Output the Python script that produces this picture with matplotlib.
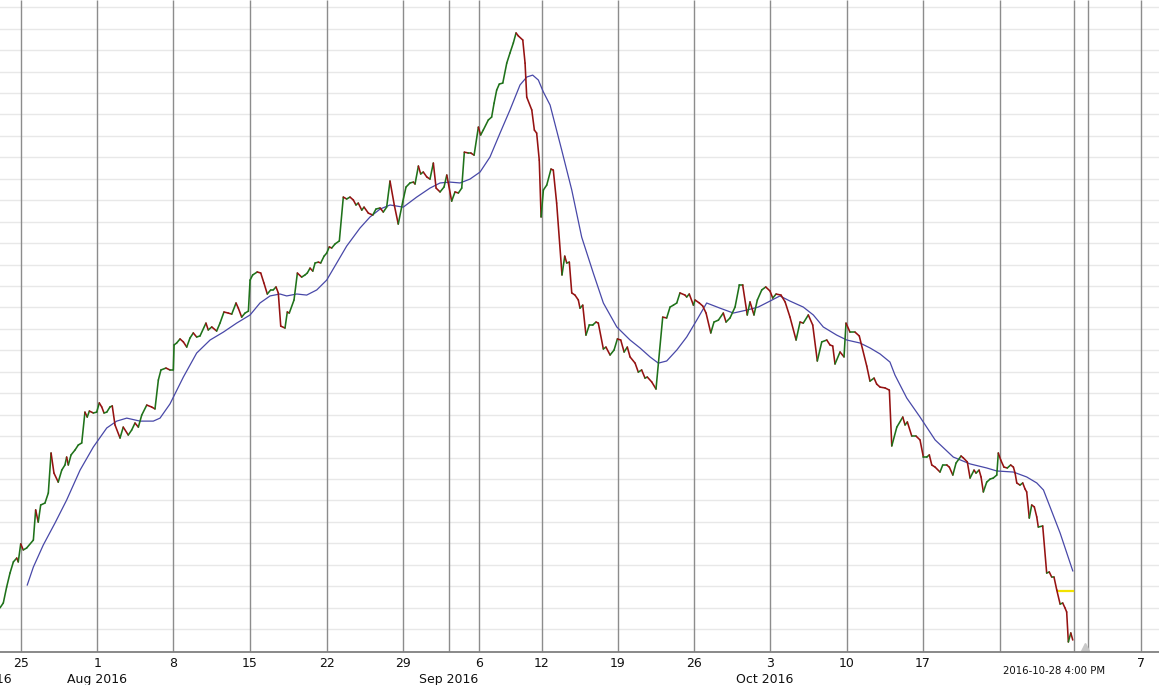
import numpy as np
import matplotlib
matplotlib.use("Agg")
import matplotlib.pyplot as plt
from matplotlib.collections import LineCollection
from matplotlib import transforms

# x = trading days since Mon Jul 25 2016, y = price in grid units
price_day = [
    -1.38, -1.16, -0.94, -0.72, -0.50, -0.28, -0.18, -0.02, 0.15, 0.37,
    0.81, 0.96, 1.13, 1.29, 1.57, 1.79, 1.97, 2.16, 2.44, 2.67,
    2.88, 2.99, 3.10, 3.28, 3.54, 3.75, 3.98, 4.19, 4.34, 4.48,
    4.74, 4.96, 5.13, 5.29, 5.44, 5.62, 5.83, 5.98, 6.16, 6.49,
    6.70, 7.03, 7.25, 7.47, 7.69, 7.91, 8.24, 8.56, 8.78, 9.00,
    9.17, 9.50, 9.76, 9.98, 10.03, 10.20, 10.42, 10.64, 10.86, 11.07,
    11.29, 11.51, 11.73, 12.12, 12.27, 12.50, 12.82, 13.04, 13.30, 13.58,
    13.81, 14.09, 14.24, 14.46, 14.68, 14.90, 15.01, 15.18, 15.48, 15.71,
    15.92, 16.14, 16.36, 16.53, 16.71, 16.86, 17.02, 17.30, 17.45, 17.58,
    17.89, 18.11, 18.39, 18.61, 18.76, 18.94, 19.12, 19.27, 19.48, 19.64,
    19.86, 20.03, 20.20, 20.36, 20.58, 20.86, 21.12, 21.34, 21.56, 21.78,
    21.95, 22.10, 22.33, 22.48, 22.76, 23.05, 23.26, 23.53, 23.74, 23.96,
    24.18, 24.46, 24.72, 25.01, 25.23, 25.49, 25.71, 25.82, 26.04, 26.19,
    26.36, 26.59, 26.80, 27.02, 27.20, 27.46, 27.72, 27.90, 28.00, 28.22,
    28.44, 28.66, 28.88, 29.05, 29.31, 29.47, 29.69, 29.97, 30.12, 30.29,
    30.62, 30.84, 31.00, 31.17, 31.34, 31.57, 31.83, 32.04, 32.26, 32.44,
    32.59, 32.88, 33.03, 33.14, 33.47, 33.64, 33.79, 33.96, 34.08, 34.23,
    34.45, 34.73, 34.88, 35.10, 35.45, 35.63, 35.76, 35.93, 36.09, 36.30,
    36.52, 36.63, 36.81, 37.02, 37.24, 37.46, 37.68, 37.83, 38.16, 38.33,
    38.60, 38.86, 39.08, 39.30, 39.52, 39.73, 39.91, 40.24, 40.45, 40.67,
    40.89, 41.04, 41.33, 41.61, 42.05, 42.31, 42.53, 42.75, 42.97, 43.18,
    43.51, 43.62, 43.79, 44.06, 44.17, 44.45, 44.67, 44.89, 45.20, 45.41,
    45.70, 46.02, 46.20, 46.46, 46.79, 47.07, 47.29, 47.59, 47.77, 48.03,
    48.25, 48.54, 48.80, 49.08, 49.26, 49.48, 49.80, 50.07, 50.39, 50.79,
    51.05, 51.26, 51.59, 51.88, 52.18, 52.47, 52.80, 53.01, 53.19, 53.34,
    53.67, 53.93, 54.06, 54.32, 54.65, 54.93, 55.42, 55.63, 55.90, 56.07,
    56.29, 56.62, 56.90, 57.06, 57.39, 57.78, 57.93, 58.08, 58.37, 58.65,
    58.91, 59.13, 59.35, 59.52, 59.68, 59.90, 60.22, 60.40, 60.66, 60.83,
    61.06, 61.27, 61.60, 61.75, 62.01, 62.19, 62.45, 62.58, 62.78, 62.91,
    63.06, 63.28, 63.50, 63.71, 63.94, 64.04, 64.20, 64.41, 64.63, 64.85,
    65.03, 65.14, 65.25, 65.46, 65.64, 65.79, 65.90, 66.07, 66.23, 66.40,
    66.56, 66.66, 66.95, 67.21, 67.38, 67.54, 67.69, 67.87, 68.09, 68.26,
    68.41, 68.52, 68.63, 68.79, 68.92,
]
price_val = [
    2.06, 2.29, 3.04, 3.69, 4.21, 4.39, 4.21, 5.05, 4.77, 4.86,
    5.23, 6.64, 6.07, 6.87, 6.96, 7.43, 9.30, 8.36, 7.94, 8.50,
    8.74, 9.11, 8.74, 9.21, 9.44, 9.67, 9.77, 11.21, 10.98, 11.26,
    11.17, 11.21, 11.64, 11.45, 11.17, 11.21, 11.45, 11.50, 10.61, 10.00,
    10.51, 10.14, 10.37, 10.70, 10.51, 11.07, 11.54, 11.45, 11.36, 12.71,
    13.18, 13.27, 13.18, 13.18, 14.35, 14.44, 14.63, 14.49, 14.25, 14.67,
    14.91, 14.72, 14.77, 15.37, 15.05, 15.19, 15.00, 15.37, 15.89, 15.84,
    15.79, 16.31, 16.07, 15.65, 15.84, 15.93, 17.38, 17.62, 17.76, 17.71,
    17.24, 16.73, 16.92, 16.92, 17.06, 16.78, 15.23, 15.14, 15.89, 15.84,
    16.45, 17.71, 17.52, 17.62, 17.71, 17.94, 17.80, 18.18, 18.22, 18.18,
    18.50, 18.64, 18.93, 18.88, 19.07, 19.21, 21.26, 21.17, 21.26, 21.12,
    20.89, 20.98, 20.65, 20.79, 20.51, 20.42, 20.70, 20.75, 20.56, 20.79,
    22.01, 20.89, 20.00, 21.03, 21.73, 21.92, 21.96, 21.87, 22.71, 22.34,
    22.43, 22.20, 22.10, 22.85, 21.68, 21.50, 21.73, 22.29, 21.92, 21.07,
    21.50, 21.45, 21.68, 23.36, 23.32, 23.32, 23.22, 24.53, 24.16, 24.39,
    24.86, 25.00, 25.65, 26.26, 26.54, 26.59, 27.52, 27.99, 28.46, 28.93,
    28.79, 28.60, 27.52, 25.93, 25.33, 24.39, 24.25, 22.99, 20.33, 21.59,
    21.82, 22.57, 22.52, 20.98, 17.62, 18.50, 18.18, 18.22, 16.78, 16.68,
    16.45, 16.07, 16.21, 14.81, 15.28, 15.28, 15.42, 15.37, 14.16, 14.25,
    13.88, 14.11, 14.63, 14.58, 14.02, 14.25, 13.79, 13.50, 13.08, 13.18,
    12.80, 12.85, 12.62, 12.29, 15.65, 15.61, 16.12, 16.21, 16.31, 16.78,
    16.68, 16.59, 16.73, 16.21, 16.45, 16.31, 16.17, 15.84, 14.91, 15.42,
    15.51, 15.84, 15.42, 15.61, 16.12, 17.15, 17.15, 15.75, 16.36, 15.75,
    16.45, 16.92, 17.06, 16.87, 16.54, 16.73, 16.68, 16.36, 15.65, 14.58,
    15.42, 15.37, 15.75, 15.28, 13.60, 14.49, 14.58, 14.35, 14.30, 13.46,
    14.02, 13.79, 15.37, 14.95, 14.95, 14.77, 13.36, 12.66, 12.80, 12.52,
    12.38, 12.34, 12.24, 9.63, 10.51, 10.98, 10.61, 10.75, 10.09, 10.09,
    9.91, 9.11, 9.11, 9.21, 8.74, 8.64, 8.41, 8.74, 8.74, 8.64,
    8.27, 8.83, 9.16, 9.07, 8.88, 8.13, 8.50, 8.36, 8.50, 8.18,
    7.48, 7.94, 8.08, 8.13, 8.27, 9.30, 8.97, 8.64, 8.60, 8.74,
    8.64, 8.36, 7.90, 7.80, 7.90, 7.62, 7.48, 6.26, 6.87, 6.78,
    6.31, 5.84, 5.89, 3.69, 3.74, 3.50, 3.50, 2.90, 2.24, 2.29,
    2.06, 1.87, 0.47, 0.89, 0.56,
]

# moving average (blue line)
ma_day = [
    0.41, 0.81, 1.46, 2.23, 2.99, 3.87, 4.74, 5.62, 6.27, 6.93,
    7.80, 8.67, 9.11, 9.76, 10.64, 11.51, 12.39, 13.26, 14.13, 15.01,
    15.66, 16.32, 16.97, 17.41, 18.07, 18.72, 19.38, 20.03, 20.69, 21.34,
    22.21, 22.87, 23.53, 24.18, 25.05, 25.93, 26.80, 27.46, 28.11, 28.77,
    29.42, 30.08, 30.73, 31.39, 32.04, 32.70, 33.14, 33.53, 33.90, 34.23,
    34.67, 35.43, 36.09, 36.74, 37.50, 38.16, 39.04, 39.91, 40.56, 41.22,
    41.76, 42.31, 42.97, 43.62, 44.28, 44.93, 45.80, 46.68, 47.56, 48.31,
    49.08, 49.73, 50.39, 51.26, 51.92, 52.57, 53.45, 54.11, 54.98, 55.63,
    56.29, 56.94, 57.27, 58.04, 58.91, 59.90, 61.09, 62.19, 63.28, 63.94,
    65.03, 65.90, 66.56, 67.00, 67.43, 68.09, 68.92,
]
ma_val = [
    3.13, 3.97, 5.00, 6.03, 7.10, 8.50, 9.58, 10.47, 10.79, 10.93,
    10.79, 10.79, 10.93, 11.59, 12.85, 13.97, 14.58, 14.95, 15.37, 15.75,
    16.31, 16.64, 16.73, 16.64, 16.73, 16.68, 16.92, 17.38, 18.18, 18.97,
    19.81, 20.33, 20.70, 20.89, 20.79, 21.26, 21.68, 21.92, 21.96, 21.92,
    22.10, 22.43, 23.13, 24.25, 25.33, 26.50, 26.87, 26.96, 26.73, 26.17,
    25.56, 23.46, 21.59, 19.39, 17.71, 16.31, 15.19, 14.58, 14.21, 13.79,
    13.50, 13.60, 14.11, 14.72, 15.51, 16.31, 16.07, 15.84, 15.98, 16.12,
    16.40, 16.64, 16.40, 16.12, 15.75, 15.19, 14.81, 14.58, 14.44, 14.21,
    13.93, 13.55, 12.94, 11.87, 10.98, 9.91, 9.11, 8.79, 8.60, 8.46,
    8.41, 8.18, 7.90, 7.57, 6.78, 5.56, 3.79,
]

# short yellow reference level at the end
ref_day = [67.97, 68.95]
ref_val = [2.85, 2.85]

# week lines and their labels
tick_day = [0, 4.99, 9.96, 14.98, 20.05, 25.03, 28.05, 30.01, 34.14, 39.12,
            44.10, 49.08, 54.13, 59.11, 64.15, 69.0, 69.92, 73.4]
tick_label = ["25", "1", "8", "15", "22", "29", "", "6", "12", "19",
              "26", "3", "10", "17", "", "", "", "7"]
month_day = [-0.6, 4.99, 28.05, 48.75]
month_label = ["Jul 2016", "Aug 2016", "Sep 2016", "Oct 2016"]
last_stamp = "2016-10-28 4:00 PM"

W, H = 1159, 685
fig = plt.figure(figsize=(W / 100, H / 100), dpi=100)
ax = fig.add_axes([0, 33 / H, 1, 652 / H])
ax.set_xlim(-1.376, 74.57)
ax.set_ylim(0, 30.47)

# horizontal grid
ax.set_yticks(np.linspace(1.07, 30.13, 30))
ax.yaxis.grid(True, color="#e8e8e8", lw=1)
ax.tick_params(axis="y", left=False, labelleft=False)
ax.set_xticks([])
ax.set_axisbelow(True)
for s in ["left", "right", "top"]:
    ax.spines[s].set_visible(False)
ax.spines["bottom"].set_color("#808080")
ax.spines["bottom"].set_linewidth(1.3)

ax.vlines(tick_day, 0, 1, transform=ax.get_xaxis_transform(),
          color="#8c8c8c", lw=1, zorder=1)

# price line coloured by direction
x = np.array(price_day)
y = np.array(price_val)
pts = np.column_stack([x, y]).reshape(-1, 1, 2)
segs = np.concatenate([pts[:-1], pts[1:]], axis=1)
cols = np.where(np.diff(y) >= 0, "#1f721a", "#951212")
lc = LineCollection(segs, colors=cols, linewidths=1.15, zorder=3,
                    capstyle="round", joinstyle="round")
ax.add_collection(lc)

ax.plot(ma_day, ma_val, color="#4848a8", lw=0.9, zorder=2)
ax.plot(ref_day, ref_val, color="#f2e200", lw=1.6, zorder=2)
ax.plot([69.72], [0.25], marker="^", color="#c8c8c8", ms=6,
        clip_on=False, zorder=2)

# axis labels
tr = transforms.blended_transform_factory(ax.transData, fig.transFigure)
for d, lab in zip(tick_day, tick_label):
    if lab:
        ax.text(d, (H - 663.5) / H, lab, transform=tr, ha="center",
                va="center", fontsize=9, color="#111111")
for d, lab in zip(month_day, month_label):
    ha = "right" if d < 0 else "center"
    ax.text(d, (H - 679.5) / H, lab, transform=tr, ha=ha, va="center",
            fontsize=9, color="#111111")
ax.text(67.7, (H - 671) / H, last_stamp, transform=tr, ha="center",
        va="center", fontsize=7.3, color="#111111")

fig.savefig("out.png", dpi=100)
